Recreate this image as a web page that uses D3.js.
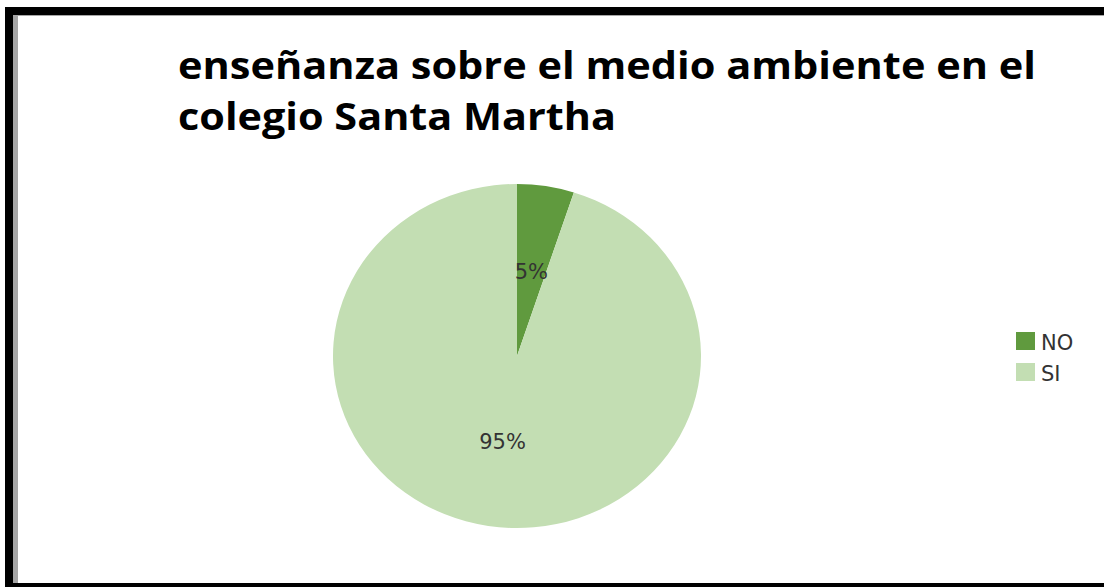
<!DOCTYPE html>
<html>
<head>
<meta charset="utf-8">
<script src="https://cdn.jsdelivr.net/npm/d3@7/dist/d3.min.js"></script>
<style>
  html, body { margin: 0; padding: 0; background: #fff; }
  svg { display: block; }
</style>
</head>
<body>
<div id="chart"></div>
<script>
var w = 1104,
    h = 587;

var categories = ["NO", "SI"];
var values = [5, 95];
var labels = ["5%", "95%"];
var colors = ["#609a3e", "#c3deb3"];
var titleLines = ["enseñanza sobre el medio ambiente en el", "colegio Santa Martha"];

var svg = d3.select("#chart")
    .append("svg")
    .attr("width", w)
    .attr("height", h);

// frame (thick black left/top/bottom, grey inner stripe on the left)
svg.append("rect").attr("x", 0).attr("y", 0).attr("width", w).attr("height", h).attr("fill", "#fff");
svg.append("rect").attr("x", 5).attr("y", 7).attr("width", w - 5).attr("height", 8).attr("fill", "#000");
svg.append("rect").attr("x", 5).attr("y", 7).attr("width", 8).attr("height", h - 7).attr("fill", "#000");
svg.append("rect").attr("x", 5).attr("y", 583).attr("width", w - 5).attr("height", 4).attr("fill", "#000");
svg.append("rect").attr("x", 13).attr("y", 15).attr("width", 5).attr("height", 568).attr("fill", "#a6a6a6");
svg.append("rect").attr("x", 13).attr("y", 15).attr("width", w - 13).attr("height", 1).attr("fill", "#a6a6a6");

// title
var titleLen = [858, 438];
svg.selectAll("text.title")
    .data(titleLines)
    .enter()
    .append("text")
    .attr("class", "title")
    .attr("x", 178)
    .attr("y", function (d, i) { return 79 + i * 51; })
    .attr("textLength", function (d, i) { return titleLen[i]; })
    .attr("lengthAdjust", "spacingAndGlyphs")
    .style("font-family", "'Open Sans', sans-serif")
    .style("font-weight", "700")
    .style("font-size", "37px")
    .style("fill", "#000")
    .text(function (d) { return d; });

// pie (source picture is slightly stretched horizontally)
var cx = 517, cy = 356, r = 172, sx = 184 / 172;

var pie = d3.pie().sort(null).value(function (d) { return d; });
var arc = d3.arc().innerRadius(0).outerRadius(r);
var arcs = pie(values);

var g = svg.append("g")
    .attr("transform", "translate(" + cx + "," + cy + ") scale(" + sx + ",1)");

g.selectAll("path")
    .data(arcs)
    .enter()
    .append("path")
    .attr("d", arc)
    .attr("fill", function (d, i) { return colors[i]; });

svg.selectAll("text.lbl")
    .data(arcs)
    .enter()
    .append("text")
    .attr("class", "lbl")
    .attr("x", function (d) { return cx + arc.centroid(d)[0] * sx; })
    .attr("y", function (d) { return cy + arc.centroid(d)[1] + 8; })
    .attr("text-anchor", "middle")
    .style("font-family", "'DejaVu Sans', sans-serif")
    .style("font-size", "21px")
    .style("fill", "#333")
    .text(function (d, i) { return labels[i]; });

// legend
var legend = svg.selectAll("g.leg")
    .data(categories)
    .enter()
    .append("g")
    .attr("class", "leg")
    .attr("transform", function (d, i) { return "translate(1016," + (332 + i * 31) + ")"; });

legend.append("rect")
    .attr("width", 19)
    .attr("height", 18)
    .attr("fill", function (d, i) { return colors[i]; });

legend.append("text")
    .attr("x", 25)
    .attr("y", 18)
    .style("font-family", "'DejaVu Sans', sans-serif")
    .style("font-size", "21px")
    .style("fill", "#333")
    .text(function (d) { return d; });
</script>
</body>
</html>
